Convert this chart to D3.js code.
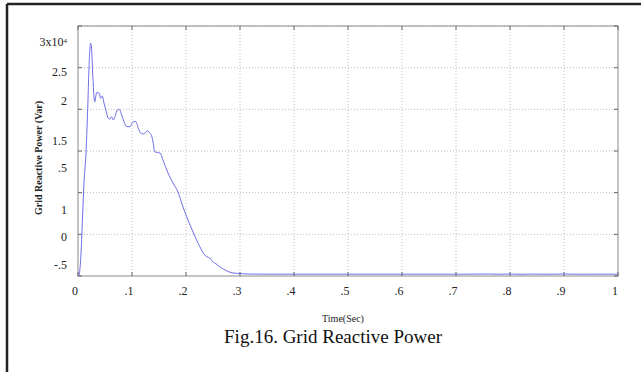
<!DOCTYPE html>
<html>
<head>
<meta charset="utf-8">
<script src="https://cdn.jsdelivr.net/npm/d3@7"></script>
<style>
  html, body { margin: 0; padding: 0; background: #fff; }
  svg { display: block; font-family: "Liberation Serif", "Times New Roman", serif; }
</style>
</head>
<body>
<div id="chart"></div>
<script>
// time (s) and grid reactive power (Var)
const time = [0.001, 0.002, 0.0056, 0.0087, 0.0111, 0.0148, 0.0185, 0.0204, 0.0235, 0.025, 0.0278,
  0.0309, 0.0346, 0.0394, 0.042, 0.045, 0.0481, 0.0519, 0.0561, 0.0593, 0.0624, 0.0654, 0.0685,
  0.0728, 0.0765, 0.0809, 0.0852, 0.0902, 0.0963, 0.1024, 0.1074, 0.1117, 0.1161, 0.1222, 0.1278,
  0.1333, 0.137, 0.1389, 0.1426, 0.1519, 0.1574, 0.1667, 0.1759, 0.1852, 0.1944, 0.2037, 0.213,
  0.2259, 0.2333, 0.2389, 0.2444, 0.2481, 0.2537, 0.263, 0.2759, 0.287, 0.3, 0.313, 0.35, 0.45,
  0.55, 0.65, 0.72, 0.76, 0.78, 0.8, 0.82, 0.84, 0.87, 0.9, 0.93, 0.96, 1.0];
const power = [-5000, -4900, -2240, 2560, 6160, 9760, 16120, 20080, 22960, 22360, 18520,
  15880, 17020, 16920, 16320, 16600, 15760, 14840, 13920, 13840, 14120, 13720, 14120,
  14920, 15000, 14320, 13520, 12920, 12920, 13520, 13520, 12720, 12160, 12040, 12400,
  12160, 11680, 11080, 9880, 9760, 8920, 7360, 6160, 5080, 3280, 1720, 280,
  -1520, -2360, -2720, -2840, -3200, -3440, -3920, -4400, -4640, -4700, -4760, -4780, -4780,
  -4780, -4780, -4780, -4760, -4790, -4760, -4800, -4770, -4790, -4760, -4790, -4780, -4780];

const xTicks = [0, 0.1, 0.2, 0.3, 0.4, 0.5, 0.6, 0.7, 0.8, 0.9, 1];
const xTickLabels = ["0", ".1", ".2", ".3", ".4", ".5", ".6", ".7", ".8", ".9", "1"];
const yGrid = [-5000, 0, 5000, 10000, 15000, 20000, 25000];
// the scanned figure's y labels do not sit on the grid, so keep where each one is drawn
const yLabels = ["3x10", "2.5", "2", "1.5", ".5", "1", "0", "-.5"];
const yLabelAt = [23100, 19500, 16000, 11200, 8000, 2950, -300, -3650];

const W = 641, H = 372;
const margin = { top: 26, right: 23, bottom: 96, left: 78 };
const iw = W - margin.left - margin.right;
const ih = H - margin.top - margin.bottom;

const svg = d3.select('#chart').append('svg')
  .attr('width', W)
  .attr('height', H);

// page frame of the scan
svg.append('line')
  .attr('x1', 7).attr('x2', W).attr('y1', 4).attr('y2', 4)
  .style('stroke', '#222').style('stroke-width', 2.5);
svg.append('line')
  .attr('x1', 7).attr('x2', 7).attr('y1', 4).attr('y2', H)
  .style('stroke', '#222').style('stroke-width', 2.5);

const x = d3.scaleLinear().domain([0, 1]).range([0, iw]);
const y = d3.scaleLinear().domain([-5000, 25000]).range([ih, 0]);

const g = svg.append('g').attr('transform', `translate(${margin.left},${margin.top})`);

// dotted grid
g.append('g').selectAll('line')
  .data(xTicks.slice(1, -1))
  .enter().append('line')
  .attr('x1', d => x(d)).attr('x2', d => x(d))
  .attr('y1', 0).attr('y2', ih)
  .style('stroke', '#bdbdbd').style('stroke-dasharray', '1,2');
g.append('g').selectAll('line')
  .data(yGrid.slice(1))
  .enter().append('line')
  .attr('x1', 0).attr('x2', iw)
  .attr('y1', d => y(d)).attr('y2', d => y(d))
  .style('stroke', '#bdbdbd').style('stroke-dasharray', '1,2');

// box
g.append('rect')
  .attr('width', iw).attr('height', ih)
  .style('fill', 'none').style('stroke', '#8a8a8a').style('stroke-width', 1);

// tick marks on all four sides
const tk = 4;
const tickG = g.append('g').style('stroke', '#666').style('stroke-width', 1);
xTicks.forEach(d => {
  tickG.append('line').attr('x1', x(d)).attr('x2', x(d)).attr('y1', ih).attr('y2', ih - tk);
  tickG.append('line').attr('x1', x(d)).attr('x2', x(d)).attr('y1', 0).attr('y2', tk);
});
yGrid.forEach(d => {
  tickG.append('line').attr('x1', 0).attr('x2', tk).attr('y1', y(d)).attr('y2', y(d));
  tickG.append('line').attr('x1', iw).attr('x2', iw - tk).attr('y1', y(d)).attr('y2', y(d));
});

// x tick labels
g.append('g').selectAll('text')
  .data(xTicks)
  .enter().append('text')
  .attr('x', d => x(d) - 3)
  .attr('y', ih + 19)
  .attr('text-anchor', 'middle')
  .style('font-size', '12px')
  .style('fill', '#222')
  .text((d, i) => xTickLabels[i]);

// y tick labels
const yl = g.append('g').selectAll('text')
  .data(yLabels)
  .enter().append('text')
  .attr('x', -11)
  .attr('y', (d, i) => y(yLabelAt[i]))
  .attr('dy', '0.35em')
  .attr('text-anchor', 'end')
  .style('font-size', '12px')
  .style('fill', '#222')
  .text(d => d);
yl.filter((d, i) => i === 0)
  .append('tspan')
  .attr('dy', '-0.45em')
  .style('font-size', '7px')
  .text('4');

// data line
const line = d3.line()
  .x((d, i) => x(time[i]))
  .y(d => y(d))
  .curve(d3.curveMonotoneX);
g.append('path')
  .datum(power)
  .attr('d', line)
  .style('fill', 'none')
  .style('stroke', '#6f6fe8')
  .style('stroke-width', 1);

// axis titles
svg.append('text')
  .attr('transform', `translate(42,${margin.top + 132}) rotate(-90)`)
  .attr('text-anchor', 'middle')
  .style('font-size', '10px')
  .style('font-weight', 'bold')
  .style('fill', '#222')
  .text('Grid Reactive Power (Var)');

svg.append('text')
  .attr('x', 343)
  .attr('y', 322)
  .attr('text-anchor', 'middle')
  .style('font-size', '10px')
  .style('fill', '#222')
  .text('Time(Sec)');

svg.append('text')
  .attr('x', 333)
  .attr('y', 343)
  .attr('text-anchor', 'middle')
  .style('font-size', '19px')
  .style('fill', '#111')
  .text('Fig.16. Grid Reactive Power');
</script>
</body>
</html>
